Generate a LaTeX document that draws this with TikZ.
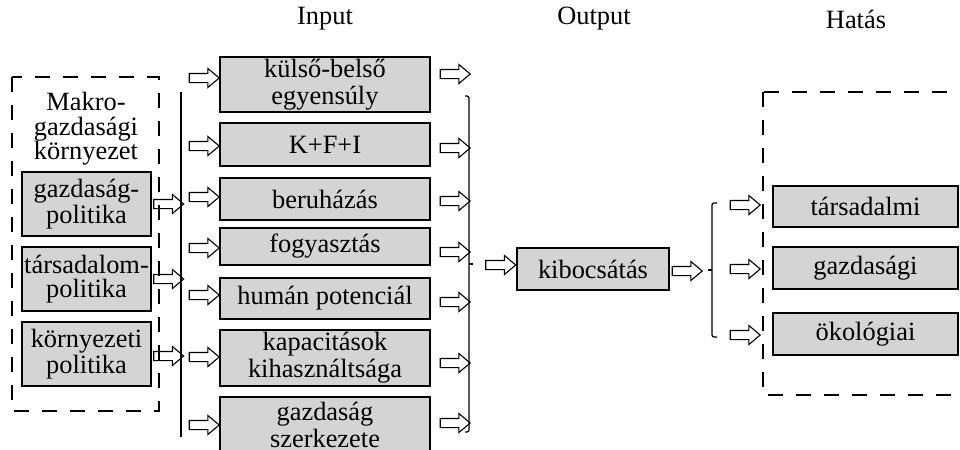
\documentclass[tikz,border=0pt]{standalone}
\usepackage{fontspec}
\setmainfont{Liberation Serif}
\usetikzlibrary{shapes.arrows}
\definecolor{boxgray}{RGB}{212,212,212}
\begin{document}
\begin{tikzpicture}[x=0.5pt,y=-0.5pt,
  gbox/.style={draw, line width=0.6pt, fill=boxgray, inner sep=0pt, outer sep=0pt, align=center,
    font=\fontsize{13.2pt}{13.5pt}\selectfont},
  lgbox/.style={gbox, minimum width=64.5pt, minimum height=32pt, font=\fontsize{13.2pt}{12pt}\selectfont},
  mgbox/.style={gbox, minimum width=105pt},
  rgbox/.style={gbox, minimum width=92.5pt},
  harr/.style={single arrow, draw, line width=0.55pt, fill=white, minimum height=15pt, minimum width=9pt,
    single arrow head extend=2.5pt, single arrow tip angle=80, inner xsep=0pt, inner ysep=2pt, outer sep=0pt},
  dbox/.style={draw, line width=0.6pt, dash pattern=on 7.5pt off 6.5pt},
  lbl/.style={font=\fontsize{13.2pt}{12.3pt}\selectfont, inner sep=0pt, align=center},
  brk/.style={line width=0.6pt, rounded corners=1pt}
]
\useasboundingbox (0,0) rectangle (960,450);
\clip (0,0) rectangle (960,450);

% headers
\node[lbl] (hin) at (325,19) {Input};
\node[lbl] (hout) at (594,19) {Output};
\node[lbl] (hhat) at (856,19) {Hatás};

% left group
\node[lbl] (makro) at (86,129) {Makro-\\gazdasági\\környezet};
\node[lgbox] (lb1) at (86.5,204) {gazdaság-\\politika};
\node[lgbox] (lb2) at (86.5,279) {társadalom-\\politika};
\node[lgbox] (lb3) at (86.5,354) {környezeti\\politika};

% arrows from left boxes to the line
\node[harr] (la1) at (166,204) {};
\node[harr] (la2) at (166,279) {};
\node[harr] (la3) at (166,356) {};

% left vertical line
\coordinate (vt) at (181,92);
\coordinate (vb) at (181,437);
\draw[line width=0.9pt] (vt) -- (vb);

% middle boxes
\node[mgbox, minimum height=27.5pt] (m1) at (325,84.5) {külső-belső\\egyensúly};
\node[mgbox, minimum height=21.5pt] (m2) at (325,144.5) {K+F+I};
\node[mgbox, minimum height=21pt] (m3) at (325,199) {beruházás};
\node[mgbox, minimum height=18.5pt] (m4) at (325,246.5) {fogyasztás};
\node[mgbox, minimum height=20.5pt] (m5) at (325,298.5) {humán potenciál};
\node[mgbox, minimum height=28pt] (m6) at (325,358) {kapacitások\\kihasználtsága};
\node[mgbox, minimum height=27.5pt] (m7) at (325,424.5) {gazdaság\\szerkezete};

% arrows into middle boxes
\node[harr] (ia1) at (201.5,78) {};
\node[harr] (ia2) at (201.5,146) {};
\node[harr] (ia3) at (201.5,197) {};
\node[harr] (ia4) at (201.5,248) {};
\node[harr] (ia5) at (201.5,295) {};
\node[harr] (ia6) at (201.5,357) {};
\node[harr] (ia7) at (201.5,425) {};

% arrows out of middle boxes
\node[harr] (oa1) at (452.5,74) {};
\node[harr] (oa2) at (452.5,148) {};
\node[harr] (oa3) at (452.5,201) {};
\node[harr] (oa4) at (452.5,252) {};
\node[harr] (oa5) at (452.5,302) {};
\node[harr] (oa6) at (452.5,363) {};
\node[harr] (oa7) at (452.5,423) {};

% right bracket of input
\coordinate (bt) at (465,96);
\coordinate (bb) at (465,432);
\coordinate (bmid) at (469,264);
\coordinate (btip) at (473,264);
\draw[brk] (bt) -| (bmid) |- (bb);
\draw[line width=0.6pt] (bmid) -- (btip);

% output
\node[harr] (ka) at (498,265) {};
\node[gbox, minimum width=76pt, minimum height=21pt] (kib) at (593,269) {kibocsátás};
\node[harr] (kb) at (684.5,271) {};

% output brace
\coordinate (ct) at (717,203);
\coordinate (cb) at (717,337);
\coordinate (cmid) at (712,270);
\coordinate (ctip) at (708,270);
\draw[brk] (ct) -| (cmid) |- (cb);
\draw[line width=0.6pt] (cmid) -- (ctip);

% right arrows and boxes
\node[harr] (ra1) at (742.5,205) {};
\node[harr] (ra2) at (742.5,269) {};
\node[harr] (ra3) at (742.5,335) {};
\node[rgbox, minimum height=20.5pt] (r1) at (865.5,206.5) {társadalmi};
\node[rgbox, minimum height=21pt] (r2) at (865.5,268) {gazdasági};
\node[rgbox, minimum height=21pt] (r3) at (865.5,334) {ökológiai};

% dashed frames
\draw[dbox] (12,77) rectangle (159,411);
\draw[dbox] (763,92) rectangle (1000,395);
\end{tikzpicture}
\end{document}
